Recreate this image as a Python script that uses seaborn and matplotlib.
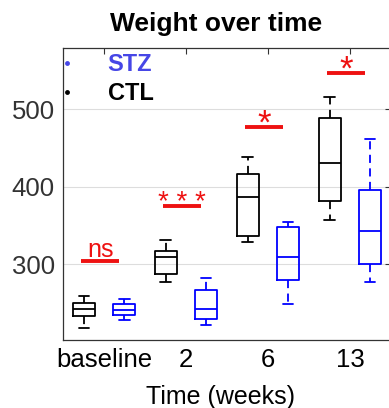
import numpy as np
import pandas as pd
import matplotlib
matplotlib.use("Agg")
import matplotlib.pyplot as plt
from matplotlib.lines import Line2D
import seaborn as sns

# ---- data (five-number summaries) ----
timepoints = ["baseline", "2", "6", "13"]
groups = ["CTL", "STZ"]

ctl_min = [218, 277, 328, 357]
ctl_q1 = [233, 287, 336, 381]
ctl_med = [242, 309, 387, 430]
ctl_q3 = [250, 317, 416, 488]
ctl_max = [259, 331, 438, 515]

stz_min = [228, 221, 248, 277]
stz_q1 = [234, 229, 279, 300]
stz_med = [241, 242, 309, 343]
stz_q3 = [248, 266, 348, 395]
stz_max = [255, 282, 354, 461]

sig_labels = ["ns", "* * *", "*", "*"]
sig_y = [304, 375, 477, 547]

yticks = [300, 400, 500]

rows = []
for i, t in enumerate(timepoints):
    for v in (ctl_min[i], ctl_q1[i], ctl_med[i], ctl_q3[i], ctl_max[i]):
        rows.append((t, "CTL", v))
    for v in (stz_min[i], stz_q1[i], stz_med[i], stz_q3[i], stz_max[i]):
        rows.append((t, "STZ", v))
df = pd.DataFrame(rows, columns=["time", "group", "weight"])

sns.set_theme(style="white")
plt.rcParams["font.family"] = ["Liberation Sans", "DejaVu Sans"]

fig = plt.figure(figsize=(3.89, 4.08), dpi=100)
ax = fig.add_axes([0.162, 0.1667, 0.843, 0.716])

ax.grid(axis="y", color="#dddddd", linewidth=0.8, zorder=0)
ax.set_axisbelow(True)

sns.boxplot(
    data=df, x="time", y="weight", hue="group",
    order=timepoints, hue_order=groups,
    palette={"CTL": "black", "STZ": "blue"},
    fill=False, width=0.98, gap=0.46, whis=(0, 100),
    linewidth=1.3,
    whiskerprops=dict(linestyle=(0, (4.5, 3))),
    legend=False, ax=ax,
)

red = "#EE1111"
for i, (lab, yv) in enumerate(zip(sig_labels, sig_y)):
    xc = i - 0.045
    ax.plot([xc - 0.23, xc + 0.23], [yv, yv], color=red, lw=2.8,
            solid_capstyle="butt", zorder=5)
    if lab == "ns":
        ax.text(xc, yv + 5, lab, color=red, ha="center", va="baseline",
                fontsize=18)
    elif lab == "*":
        ax.text(xc, yv - 9, lab, color=red, ha="center", va="baseline",
                fontsize=25)
    else:
        ax.text(xc, yv - 5, lab, color=red, ha="center", va="baseline",
                fontsize=20)

ax.set_xlim(-0.5, 3.5)
ax.set_ylim(202, 579)
ax.set_yticks(yticks)
ax.set_xlabel("Time (weeks)", fontsize=18, labelpad=9, color="black",
              x=0.479)
ax.set_ylabel("")
ax.set_title("Weight over time", fontsize=19, fontweight="bold", pad=12,
             x=0.468, color="black")

ax.tick_params(axis="both", direction="in", length=4, width=0.8,
               top=True, right=True, colors="#333333", labelsize=18.5)
ax.tick_params(axis="x", labelcolor="black", pad=6)
ax.tick_params(axis="y", labelcolor="#333333", pad=6)
for s in ax.spines.values():
    s.set_color("#333333")
    s.set_linewidth(0.9)

handles = [
    Line2D([], [], marker="o", color="none", markerfacecolor="#4646E6",
           markeredgecolor="none", markersize=3.5),
    Line2D([], [], marker="o", color="none", markerfacecolor="black",
           markeredgecolor="none", markersize=3.5),
]
leg = ax.legend(handles, ["STZ", "CTL"], loc="upper left", frameon=False,
                prop={"weight": "bold", "size": 17}, handlelength=1.0,
                handletextpad=1.23, labelspacing=0.25,
                bbox_to_anchor=(-0.068, 1.03), borderaxespad=0.2)
leg.get_texts()[0].set_color("#4646E6")
leg.get_texts()[1].set_color("black")

fig.savefig("out.png", dpi=100)
